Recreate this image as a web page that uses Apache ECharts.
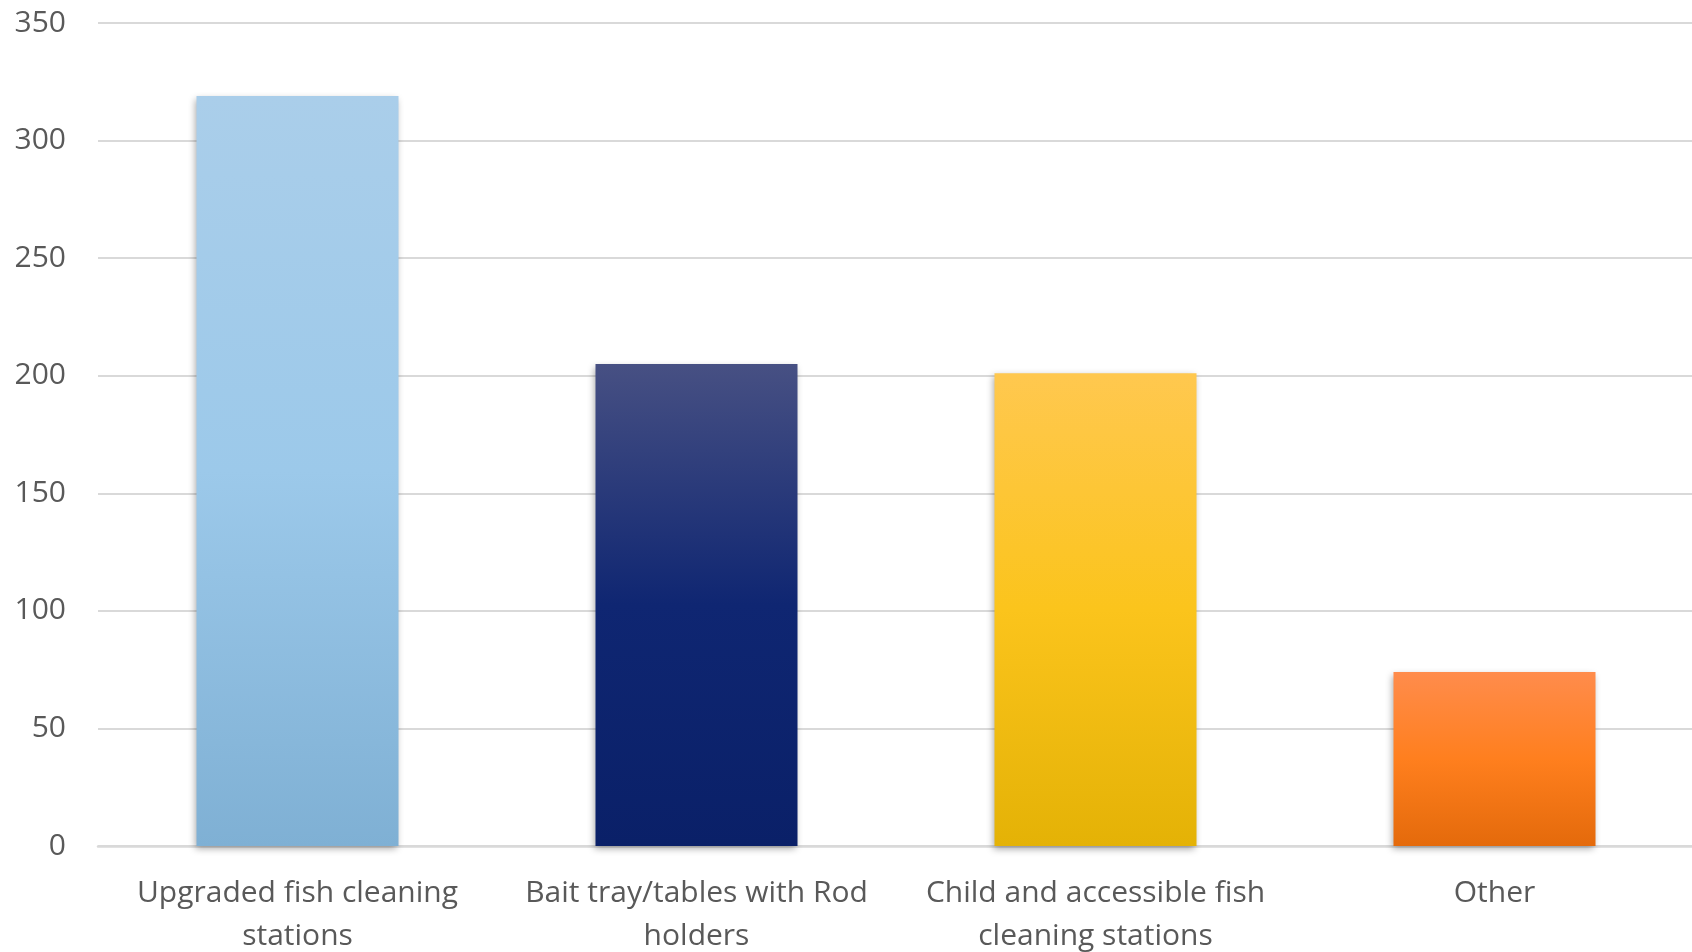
<!DOCTYPE html>
<html>
<head>
<meta charset="utf-8">
<script src="https://cdn.jsdelivr.net/npm/echarts@6/dist/echarts.min.js"></script>
<style>html,body{margin:0;padding:0;background:#fff}#c{width:1692px;height:952px}</style>
</head>
<body>
<div id="c"></div>
<script>
const categories = ["Upgraded fish cleaning\nstations", "Bait tray/tables with Rod\nholders", "Child and accessible fish\ncleaning stations", "Other"];
const values = [319, 205, 201, 74];
const yTicks = [0, 50, 100, 150, 200, 250, 300, 350];
const gradients = [
  ["#AACEEA", "#9CC9EA", "#7FB0D4"],
  ["#475083", "#0F2672", "#0A2068"],
  ["#FFC84F", "#FBC41C", "#E4B206"],
  ["#FF8C4C", "#FF7F1E", "#E46A0B"]
];
const chart = echarts.init(document.getElementById('c'));
chart.setOption({
  animation: false,
  grid: {left: 98, right: -2, top: 23, bottom: 106, containLabel: false, outerBoundsMode: 'none'},
  xAxis: {
    type: 'category',
    data: categories,
    axisLine: {lineStyle: {color: '#d9d9d9', width: 2.5}},
    axisTick: {show: false},
    axisLabel: {color: '#595959', fontSize: 30, fontFamily: 'Open Sans', lineHeight: 43, margin: 26, interval: 0}
  },
  yAxis: {
    type: 'value',
    min: yTicks[0], max: yTicks[yTicks.length - 1], interval: 50,
    axisLine: {show: false},
    axisTick: {show: false},
    splitLine: {lineStyle: {color: '#d9d9d9', width: 2}},
    axisLabel: {color: '#595959', fontSize: 30, fontFamily: 'Open Sans', margin: 32}
  },
  series: [{
    type: 'bar',
    barWidth: 202,
    data: values.map((v, i) => ({
      value: v,
      itemStyle: {
        color: new echarts.graphic.LinearGradient(0, 0, 0, 1, [
          {offset: 0, color: gradients[i][0]},
          {offset: 0.5, color: gradients[i][1]},
          {offset: 1, color: gradients[i][2]}
        ])
      }
    })),
    itemStyle: {shadowColor: 'rgba(0,0,0,0.35)', shadowBlur: 7, shadowOffsetX: -2, shadowOffsetY: 3}
  }]
});
</script>
</body>
</html>
